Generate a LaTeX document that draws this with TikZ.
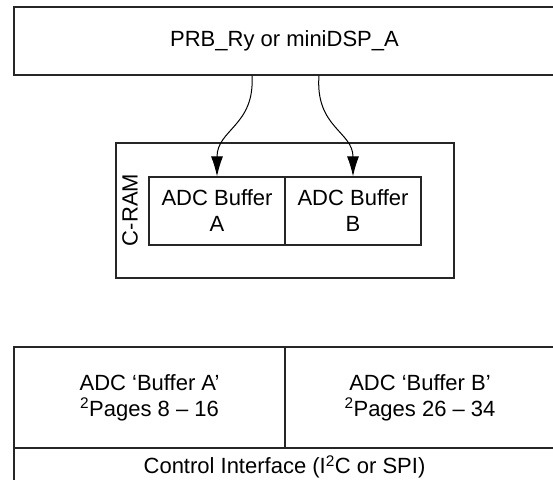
\documentclass[tikz,border=0pt]{standalone}
\usepackage{fontspec}
\setmainfont{Liberation Sans}
\usetikzlibrary{arrows.meta}

\tikzset{
  box/.style={draw=black!85, line width=1.2pt, inner sep=0pt, align=center,
    font=\fontsize{22}{26}\selectfont},
  link/.style={line width=1pt, -{Latex[length=20pt,width=12pt]}}
}

\begin{document}
\begin{tikzpicture}[x=1pt,y=-1pt]
        \useasboundingbox (0,0) rectangle (553,479);

        \node[box, minimum width=541pt, minimum height=68pt] (prb) at (284.5,41){PRB\_Ry or miniDSP\_A};

        % C-RAM with its two buffers
        \node[box, minimum width=338pt, minimum height=135pt] (cram) at (285,210.5){};
        \node[font=\fontsize{22}{26}\selectfont, rotate=90] (cramlabel) at (130,210){C-RAM};
        \node[box, minimum width=136pt, minimum height=68pt] (bufa) at (217,211){ADC Buffer\\A};
        \node[box, minimum width=136pt, minimum height=68pt] (bufb) at (353,211){ADC Buffer\\B};

        \draw[link] ([xshift=-32.5pt]prb.south) .. controls +(3,50) and +(0,-47) .. (bufa.north);
        \draw[link] ([xshift=34.5pt]prb.south) .. controls +(-4,52) and +(0,-45) .. (bufb.north);

        % register pages
        \node[box, minimum width=271pt, minimum height=101pt] (pagea) at (149.5,397.5){ADC ‘Buffer A’\\\textsuperscript{2}Pages 8 – 16};
        \node[box, minimum width=270pt, minimum height=101pt] (pageb) at (420,397.5){ADC ‘Buffer B’\\\textsuperscript{2}Pages 26 – 34};
        \node[box, minimum width=541pt, minimum height=38pt] (ctrl) at (284.5,467){Control Interface (I\textsuperscript{2}C or SPI)};
    \end{tikzpicture}
\end{document}
